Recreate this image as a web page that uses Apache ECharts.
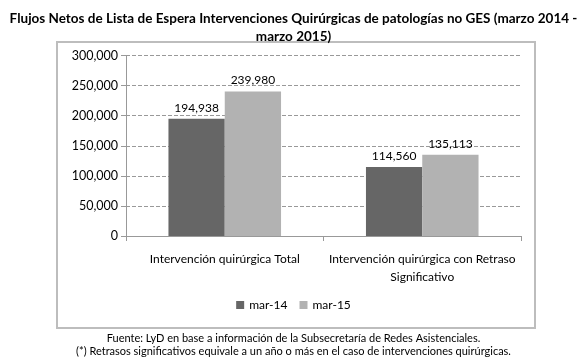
<!DOCTYPE html>
<html><head><meta charset="utf-8">
<script src="https://cdn.jsdelivr.net/npm/echarts@6/dist/echarts.min.js"></script>
<style>html,body{margin:0;padding:0;background:#fff}#c{width:587px;height:360px}</style>
</head><body><div id="c"></div>
<script>
var categories = ['Intervención quirúrgica Total', 'Intervención quirúrgica con Retraso\nSignificativo'];
var seriesNames = ['mar-14', 'mar-15'];
var mar14 = [194938, 114560];
var mar15 = [239980, 135113];
var yTicks = [0, 50000, 100000, 150000, 200000, 250000, 300000];

var chart = echarts.init(document.getElementById('c'));
var font = 'Lato, "Open Sans", sans-serif';
function fmt(v){ return v.toString().replace(/\B(?=(\d{3})+(?!\d))/g, ','); }
chart.setOption({
  animation: false,
  title: {
    text: 'Flujos Netos de Lista de Espera Intervenciones Quirúrgicas de patologías no GES (marzo 2014 -\nmarzo 2015)',
    left: 'center', top: 5,
    textStyle: { fontFamily: font, fontSize: 13.5, fontWeight: 'bold', color: '#000', lineHeight: 18 }
  },
  graphic: [
    { type: 'rect', shape: { x: 57, y: 42, width: 478, height: 286 }, style: { fill: 'none', stroke: '#bdbdbd', lineWidth: 2 }, z: -1 },
    { type: 'text', left: 'center', top: 332, style: { text: 'Fuente: LyD en base a información de la Subsecretaría de Redes Asistenciales.\n(*) Retrasos significativos equivale a un año o más en el caso de intervenciones quirúrgicas.', font: '11px ' + font, fill: '#000', textAlign: 'center', lineHeight: 13 } }
  ],
  legend: {
    data: seriesNames, bottom: 44, left: 'center', itemWidth: 8, itemHeight: 8, itemGap: 12,
    icon: 'rect', textStyle: { fontFamily: font, fontSize: 12, color: '#000' }
  },
  grid: { left: 126, right: 66, top: 55.5, bottom: 124 },
  xAxis: {
    type: 'category', data: categories,
    axisLine: { lineStyle: { color: '#999' } },
    axisTick: { show: true, length: 5, lineStyle: { color: '#999' } },
    axisLabel: { fontFamily: font, fontSize: 12, color: '#000', margin: 14, lineHeight: 18, interval: 0 }
  },
  yAxis: {
    type: 'value', min: 0, max: 300000, interval: 50000,
    axisLine: { show: true, lineStyle: { color: '#999' } },
    axisTick: { show: true, length: 5, inside: false, lineStyle: { color: '#999' } },
    axisLabel: { fontFamily: font, fontSize: 12.5, color: '#000', margin: 8, formatter: function(v){ return fmt(v); } },
    splitLine: { lineStyle: { type: 'dashed', color: '#999' } }
  },
  series: [
    { name: seriesNames[0], type: 'bar', data: mar14, barGap: '0%', barCategoryGap: '43%', itemStyle: { color: '#666666' },
      label: { show: true, position: 'top', fontFamily: font, fontSize: 12, color: '#000', formatter: function(p){ return fmt(p.value); } } },
    { name: seriesNames[1], type: 'bar', data: mar15, barGap: '0%', barCategoryGap: '43%', itemStyle: { color: '#b2b2b2' },
      label: { show: true, position: 'top', fontFamily: font, fontSize: 12, color: '#000', formatter: function(p){ return fmt(p.value); } } }
  ]
});
</script></body></html>
